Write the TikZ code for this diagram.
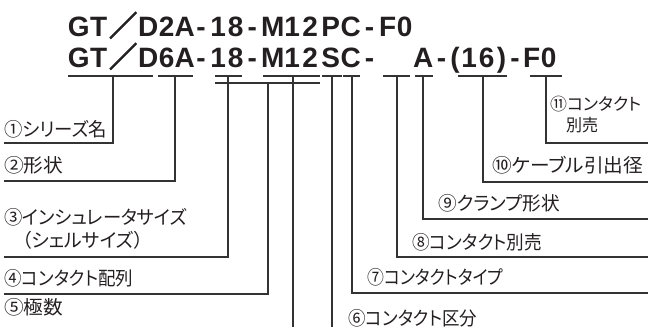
\documentclass[tikz,border=0pt]{standalone}
\usepackage{fontspec}
\usepackage{graphicx}
\setmainfont{Liberation Sans}
\newfontfamily\tf{Liberation Sans}
\newfontfamily\jp[RawFeature=+palt]{Noto Sans CJK JP}
\newfontfamily\jpt[FakeBold=3]{Noto Sans CJK JP}
\definecolor{inkc}{HTML}{231F20}
\definecolor{linec}{HTML}{333333}
\newcommand\lbl[2]{\resizebox{#1pt}{\height}{\jp #2}}
\newcommand\bx[2]{\makebox[#1pt]{#2}}
\begin{document}
\begin{tikzpicture}[x=1pt,y=-1pt,
  lead/.style={draw=linec, line width=1.1pt},
  ttl/.style={anchor=base west, inner sep=0pt, text=inkc, font=\fontsize{28}{30}\selectfont\tf\bfseries},
  lab/.style={anchor=west, inner sep=0pt, text=inkc, font=\fontsize{19}{22}\selectfont},
  labs/.style={anchor=west, inner sep=0pt, text=inkc, font=\fontsize{17}{20}\selectfont}]
\useasboundingbox (0,0) rectangle (648,327);

% title lines (each character set in its own slot)
\node[ttl] (T1) at (68,36) {\bx{21}{G}\bx{19}{T}\bx{30}{\jpt ／}\bx{20}{D}\bx{17}{2}\bx{19}{A}\bx{14}{-}\bx{20}{1}\bx{15}{8}\bx{18}{-}\bx{23}{M}\bx{16}{1}\bx{20}{2}\bx{21}{P}\bx{19}{C}\bx{19}{-}\bx{17}{F}\bx{17}{0}};
\node[ttl] (T2) at (68,67) {\bx{21}{G}\bx{19}{T}\bx{30}{\jpt ／}\bx{20}{D}\bx{17}{6}\bx{19}{A}\bx{14}{-}\bx{20}{1}\bx{15}{8}\bx{18}{-}\bx{23}{M}\bx{16}{1}\bx{20}{2}\bx{21}{S}\bx{19}{C}\bx{19}{-}\bx{33}{}\bx{22}{A}\bx{15}{-}\bx{12}{(}\bx{16}{1}\bx{19}{6}\bx{11}{)}\bx{16}{-}\bx{17}{F}\bx{17}{0}};

% underlines
\foreach \a/\b in {68/153,158/193,215/242,263/320,322/342,343/360,383/410,415/433,458/507,530/562}
  \draw[lead] (\a,76) -- (\b,76);
\coordinate (br1) at (215,83);
\coordinate (br2) at (320,83);
\draw[lead] (br1) -- (br2);

% labels
\node[lab] (L1) at (4,129) {\lbl{103}{①シリーズ名}};
\node[lab] (L2) at (4,165) {\lbl{59}{②形状}};
\node[lab] (L3a) at (4,217) {\lbl{183}{③インシュレータサイズ}};
\node[lab] (L3b) at (22,240) {\lbl{121}{（シェルサイズ）}};
\node[lab] (L4) at (4,278) {\lbl{129}{④コンタクト配列}};
\node[lab] (L5) at (4,307) {\lbl{59}{⑤極数}};
\node[lab] (L6) at (348,318) {\lbl{129}{⑥コンタクト区分}};
\node[lab] (L7) at (367,277) {\lbl{136}{⑦コンタクトタイプ}};
\node[lab] (L8) at (412,242) {\lbl{130}{⑧コンタクト別売}};
\node[lab] (L9) at (438,203) {\lbl{122}{⑨クランプ形状}};
\node[lab] (L10) at (492,165) {\lbl{151}{⑩ケーブル引出径}};
\node[labs] (L11a) at (550,104) {\lbl{91}{⑪コンタクト}};
\node[labs] (L11b) at (566,125) {\lbl{32}{別売}};

% leader start points (on underlines)
\coordinate (t1) at (113,76);
\coordinate (t2) at (175,76);
\coordinate (t3) at (228,76);
\coordinate (t4) at (268,83);
\coordinate (t5) at (293,76);
\coordinate (t6) at (332,76);
\coordinate (t7) at (352,76);
\coordinate (t8) at (397,76);
\coordinate (t9) at (423,76);
\coordinate (t10) at (483,76);
\coordinate (t11) at (546,76);
% leader end points
\coordinate (e1) at (4,143);
\coordinate (e2) at (4,181);
\coordinate (e3) at (4,257);
\coordinate (e4) at (4,294);
\coordinate (e5) at (293,327);
\coordinate (e6) at (332,327);
\coordinate (e7) at (648,293);
\coordinate (e8) at (648,257);
\coordinate (e9) at (648,219);
\coordinate (e10) at (648,182);
\coordinate (e11) at (648,143);

\draw[lead] (t1) |- (e1);
\draw[lead] (t2) |- (e2);
\draw[lead] (t3) |- (e3);
\draw[lead] (t4) |- (e4);
\draw[lead] (t5) -- (e5);
\draw[lead] (t6) -- (e6);
\draw[lead] (t7) |- (e7);
\draw[lead] (t8) |- (e8);
\draw[lead] (t9) |- (e9);
\draw[lead] (t10) |- (e10);
\draw[lead] (t11) |- (e11);
\end{tikzpicture}
\end{document}
